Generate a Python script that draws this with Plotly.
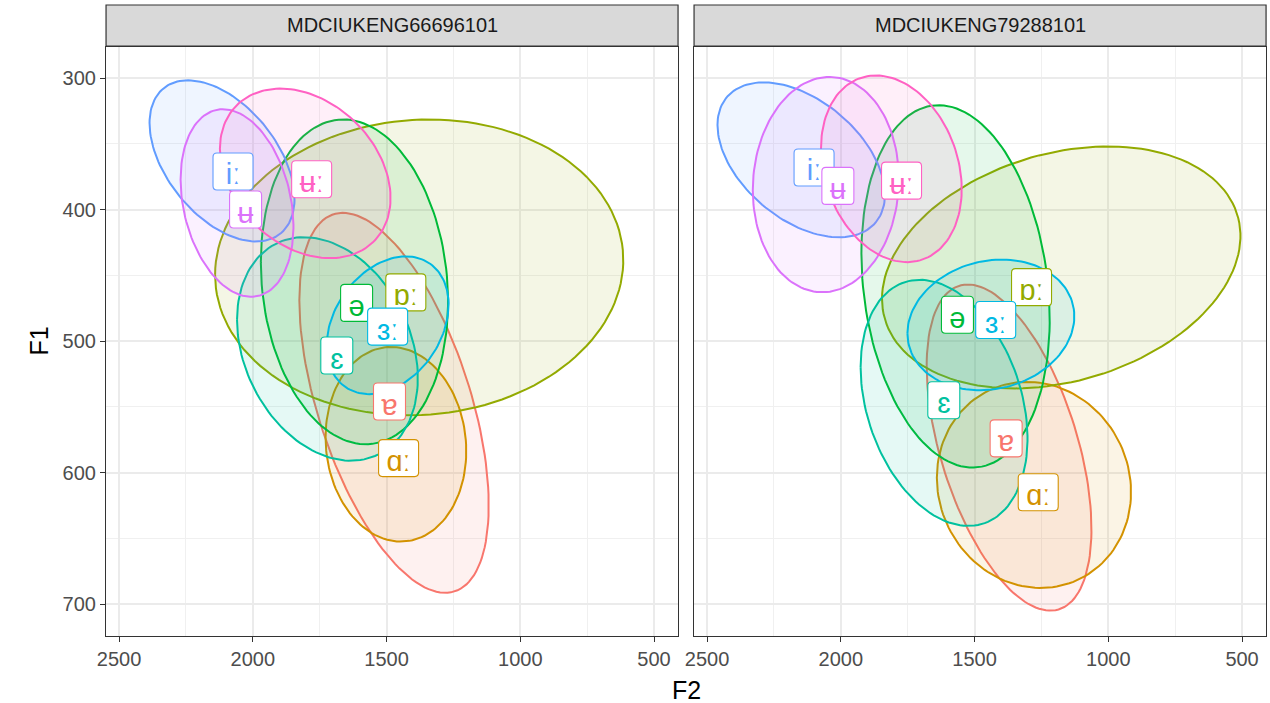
import numpy as np
import plotly.graph_objects as go

# Vowel categories and their ggplot-style hue colours
vowels = ["ɐ", "ɑː", "ɒː", "ə", "ɛ", "ɜː", "iː", "ʉ", "ʉː"]
colors = ["#F8766D", "#D39200", "#93AA00", "#00BA38", "#00C19F",
          "#00B9E3", "#619CFF", "#DB72FB", "#FF61C3"]

speakers = ["MDCIUKENG66696101", "MDCIUKENG79288101"]

# Speaker 1: ellipse centres (F2, F1), half-extents and F2/F1 correlation
s1_cx = [1472, 1465, 1378, 1620, 1721, 1496, 2115, 2059, 1804]
s1_cy = [547, 578.5, 444, 455, 506, 488, 363, 395, 372.5]
s1_hw = [354, 263, 763, 350, 338, 228, 271, 211, 319]
s1_hh = [144.5, 74, 112.5, 123.5, 85, 52.4, 61.3, 71.3, 64.5]
s1_r = [-0.54, -0.07, 0.05, -0.12, -0.26, 0.30, -0.47, -0.25, -0.29]
# Speaker 1: vowel mean positions (label anchors)
s1_lx = [1489, 1455, 1428, 1612, 1686, 1496, 2074, 2027, 1780]
s1_ly = [546, 589, 463, 471, 511, 489, 371, 400, 377]

# Speaker 2
s2_cx = [1371, 1278, 1176, 1571, 1614, 1439, 2148, 2056, 1811]
s2_cy = [581, 609.4, 444, 458.4, 547, 487.7, 362.2, 381, 369]
s2_hw = [308, 363, 670, 352, 312, 312, 313, 273, 263]
s2_hh = [124, 78.4, 92, 137.8, 93.6, 49.7, 58.9, 81.9, 71]
s2_r = [-0.50, -0.07, 0.26, -0.18, -0.29, 0.13, -0.45, 0.05, -0.22]
s2_lx = [1382, 1262, 1287, 1564, 1615, 1421, 2100, 2011, 1773]
s2_ly = [574, 615, 459, 480, 545, 484, 368, 382, 378]

x_ticks = [2500, 2000, 1500, 1000, 500]
y_ticks = [300, 400, 500, 600, 700]

panels = [
    (s1_cx, s1_cy, s1_hw, s1_hh, s1_r, s1_lx, s1_ly),
    (s2_cx, s2_cy, s2_hw, s2_hh, s2_r, s2_lx, s2_ly),
]


def rgba(hex_col, a):
    h = hex_col.lstrip("#")
    return "rgba(%d,%d,%d,%.3f)" % (int(h[0:2], 16), int(h[2:4], 16), int(h[4:6], 16), a)


def ellipse(cx, cy, hw, hh, r, n=140):
    t = np.linspace(0, 2 * np.pi, n)
    x = cx + hw * np.cos(t)
    y = cy + hh * (r * np.cos(t) + np.sqrt(1 - r * r) * np.sin(t))
    return x, y


def rounded_box(w, h, c=4):
    """Rounded rectangle path in pixel offsets around an anchor point."""
    a, b = w / 2, h / 2
    return (f"M {-a + c},{-b} L {a - c},{-b} Q {a},{-b} {a},{-b + c} "
            f"L {a},{b - c} Q {a},{b} {a - c},{b} L {-a + c},{b} "
            f"Q {-a},{b} {-a},{b - c} L {-a},{-b + c} Q {-a},{-b} {-a + c},{-b} Z")


fig = go.Figure()
annotations = []
shapes = []

x_domains = [[0.0835, 0.5339], [0.5465, 0.9969]]
y_domain = [0.0953, 0.9331]

for p, (cx, cy, hw, hh, rr, lx, ly) in enumerate(panels):
    xa = "x" if p == 0 else "x2"
    ya = "y" if p == 0 else "y2"
    for i, v in enumerate(vowels):
        ex, ey = ellipse(cx[i], cy[i], hw[i], hh[i], rr[i])
        fig.add_trace(go.Scatter(
            x=ex, y=ey, mode="lines", fill="toself",
            fillcolor=rgba(colors[i], 0.1),
            line=dict(color=colors[i], width=2),
            xaxis=xa, yaxis=ya, showlegend=False, hoverinfo="skip"))
    # vowel labels: rounded white boxes at the vowel means
    for i, v in enumerate(vowels):
        bw = 32 if len(v) == 1 else 40
        shapes.append(dict(
            type="path", xref=xa, yref=ya,
            xsizemode="pixel", ysizemode="pixel",
            xanchor=lx[i], yanchor=ly[i],
            path=rounded_box(bw, 37),
            fillcolor="white", line=dict(color=colors[i], width=1.1),
            layer="above",
            label=dict(text=v, textposition="middle center",
                       font=dict(family="Liberation Sans, DejaVu Sans",
                                 size=29, color=colors[i]))))

# facet strips
strip_y = [0.9346, 0.9929]
for p, sp in enumerate(speakers):
    d = x_domains[p]
    shapes.append(dict(type="rect", xref="paper", yref="paper",
                       x0=d[0], x1=d[1], y0=strip_y[0], y1=strip_y[1],
                       fillcolor="#D9D9D9", line=dict(color="#333333", width=1.2),
                       layer="above"))
    annotations.append(dict(
        x=(d[0] + d[1]) / 2, y=(strip_y[0] + strip_y[1]) / 2, xref="paper", yref="paper",
        text=sp, showarrow=False, xanchor="center", yanchor="middle",
        font=dict(family="Liberation Sans", size=20, color="#1A1A1A")))

# axis titles
annotations.append(dict(x=(x_domains[0][0] + x_domains[1][1]) / 2, y=0.018,
                        xref="paper", yref="paper", text="F2", showarrow=False,
                        xanchor="center", yanchor="middle",
                        font=dict(family="Liberation Sans", size=25, color="black")))
annotations.append(dict(x=0.030, y=(y_domain[0] + y_domain[1]) / 2,
                        xref="paper", yref="paper", text="F1", showarrow=False,
                        textangle=-90, xanchor="center", yanchor="middle",
                        font=dict(family="Liberation Sans", size=25, color="black")))

axis_common = dict(
    showline=True, mirror=True, linecolor="#333333", linewidth=1.2,
    ticks="outside", ticklen=5, tickwidth=1.2, tickcolor="#333333",
    showgrid=True, gridcolor="#EBEBEB", gridwidth=1.6, zeroline=False,
    automargin=False,
    tickfont=dict(family="Liberation Sans", size=20, color="#4D4D4D"),
)

xaxis_cfg = dict(axis_common, range=[2548.6, 410.3], tickvals=x_ticks,
                 minor=dict(tickvals=[2250, 1750, 1250, 750], showgrid=True,
                            gridcolor="#F0F0F0", gridwidth=0.9, ticks=""))
yaxis_cfg = dict(axis_common, range=[724.3, 276.4], tickvals=y_ticks,
                 minor=dict(tickvals=[350, 450, 550, 650], showgrid=True,
                            gridcolor="#F0F0F0", gridwidth=0.9, ticks=""))

fig.update_layout(
    width=1270, height=703,
    margin=dict(l=0, r=0, t=0, b=0, autoexpand=False),
    paper_bgcolor="white", plot_bgcolor="white",
    xaxis=dict(xaxis_cfg, domain=x_domains[0], anchor="y"),
    xaxis2=dict(xaxis_cfg, domain=x_domains[1], anchor="y2"),
    yaxis=dict(yaxis_cfg, domain=y_domain, anchor="x"),
    yaxis2=dict(yaxis_cfg, domain=y_domain, anchor="x2", matches="y",
                showticklabels=False, ticks=""),
    annotations=annotations,
    shapes=shapes,
)

fig.write_html("out.html")
